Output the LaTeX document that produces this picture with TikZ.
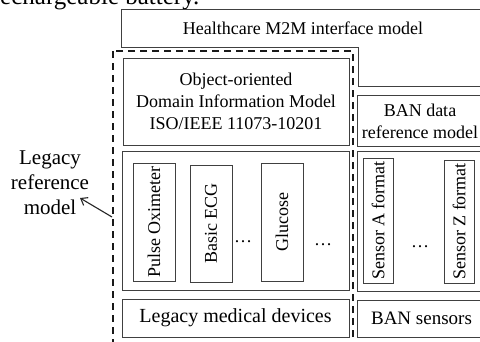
\documentclass[tikz,border=0pt]{standalone}
\usepackage{fontspec}
\setmainfont{Liberation Serif}
\usetikzlibrary{arrows.meta}
\tikzset{
  box/.style={draw=black!75, line width=0.8pt, inner sep=0pt},
  vbox/.style={box, rotate=90, font=\fontsize{18}{21}\selectfont},
  txt/.style={inner sep=0pt, align=center, font=\fontsize{18}{22}\selectfont},
  dots/.style={inner sep=0pt, font=\fontsize{18}{21}\selectfont}
}
\begin{document}
\begin{tikzpicture}[x=1pt,y=-1pt]
\useasboundingbox (0,0) rectangle (480,341);
\clip (0,0) rectangle (480,341);
\fill[white] (0,0) rectangle (480,341);
% cut-off caption text at the top
\node[anchor=base west, inner sep=0pt, font=\fontsize{25}{30}\selectfont] (cap) at (-8.3,4.5) {rechargeable battery.};
% top interface box
\draw[draw=black!75, line width=0.8pt] (121,9) -- (486,9) -- (486,86) -- (358,86) -- (358,47) -- (121,47) -- cycle;
\node[txt] (hc) at (303,28) {Healthcare M2M interface model};
% left column
\node[box, minimum width=226pt, minimum height=87pt] (oo) at (236,101.5) {};
\node[txt] (ootxt) at (oo.center) {Object-oriented\\Domain Information Model\\ISO/IEEE 11073-10201};
\node[box, minimum width=227pt, minimum height=139pt] (dev) at (235.5,220.5) {};
\node[vbox, minimum width=118pt, minimum height=42pt] (po) at (154,222) {Pulse Oximeter};
\node[vbox, minimum width=117pt, minimum height=42pt] (ecg) at (211,223.5) {Basic ECG};
\node[vbox, minimum width=118pt, minimum height=42pt] (glu) at (282,222) {Glucose};
\node[dots] (d1) at (243,241.5) {\dots};
\node[dots] (d2) at (323,245) {\dots};
\node[box, minimum width=227pt, minimum height=38pt, font=\fontsize{20}{24}\selectfont] (lmd) at (235.5,318) {Legacy medical devices};
% right column
\node[box, minimum width=129pt, minimum height=51pt] (ban) at (421.5,120.5) {};
\node[txt] (bantxt) at (420,121) {BAN data\\reference model};
\node[box, minimum width=129pt, minimum height=140pt] (sen) at (421.5,221) {};
\node[vbox, minimum width=125pt, minimum height=30pt] (sa) at (378,220.5) {Sensor A format};
\node[vbox, minimum width=123pt, minimum height=30pt] (sz) at (459,221.5) {Sensor Z format};
\node[dots] (d3) at (420,247) {\dots};
\node[box, minimum width=129pt, minimum height=37pt, font=\fontsize{19}{23}\selectfont] (bs) at (421.5,318.5) {BAN sensors};
% dashed legacy reference model boundary
\draw[black!90, line width=2pt, dash pattern=on 7pt off 5pt] (113,51) rectangle (353,350);
\node[txt, font=\fontsize{21}{25}\selectfont] (lrm) at (50,183) {Legacy\\reference\\model};
\coordinate (arrs) at (112,217);
\coordinate (arre) at (80,198);
\draw[black!85, line width=1.1pt, -{Straight Barb[length=6pt, width=9pt]}] (arrs) -- (arre);
\end{tikzpicture}
\end{document}
